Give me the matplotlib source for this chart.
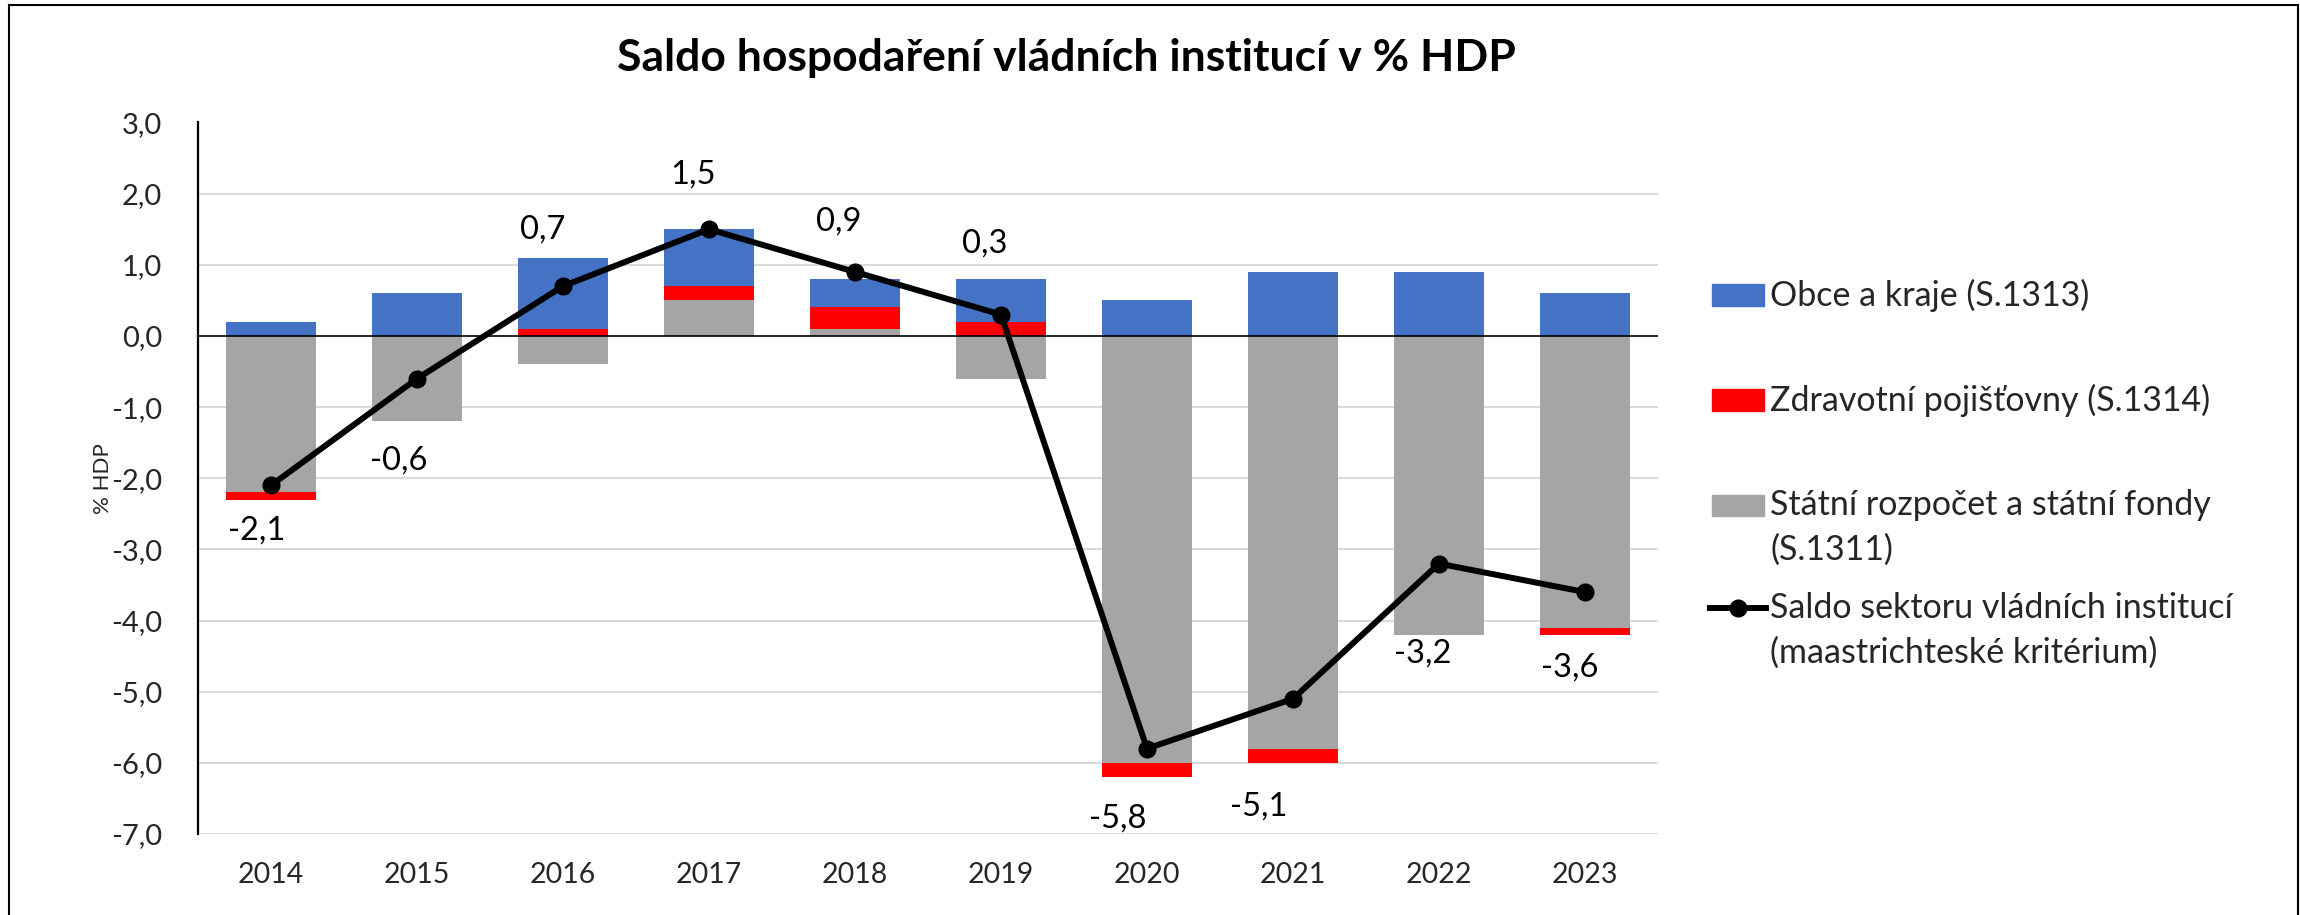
import numpy as np
import matplotlib
matplotlib.use("Agg")
import matplotlib.pyplot as plt
from matplotlib.patches import Rectangle
from matplotlib.lines import Line2D

plt.rcParams['font.family'] = ['Lato', 'DejaVu Sans']

# data (% HDP)
years = ["2014", "2015", "2016", "2017", "2018", "2019", "2020", "2021", "2022", "2023"]
statni = [-2.2, -1.2, -0.4, 0.5, 0.1, -0.6, -6.0, -5.8, -4.2, -4.1]
zdravotni = [-0.1, 0.0, 0.1, 0.2, 0.3, 0.2, -0.2, -0.2, 0.0, -0.1]
obce = [0.2, 0.6, 1.0, 0.8, 0.4, 0.6, 0.5, 0.9, 0.9, 0.6]
saldo = [-2.1, -0.6, 0.7, 1.5, 0.9, 0.3, -5.8, -5.1, -3.2, -3.6]

labels = ["Obce a kraje (S.1313)",
          "Zdravotní pojišťovny (S.1314)",
          "Státní rozpočet a státní fondy\n(S.1311)",
          "Saldo sektoru vládních institucí\n(maastrichteské kritérium)"]
title = "Saldo hospodaření vládních institucí v % HDP"

BLUE = "#4472C4"
RED = "#FF0000"
GRAY = "#A5A5A5"

# label offsets in pixels (x right, y down), placed by hand like in the original
lab_off = [(-14, 45), (-18, 82), (-20, -57), (-16, -55), (-16, -50),
           (-16, -71), (-29, 70), (-34, 108), (-16, 90), (-15, 75)]

W, H = 2300, 915
fig = plt.figure(figsize=(W / 100, H / 100), dpi=100)
ax = fig.add_axes([198 / W, 1 - 834 / H, 1460 / W, 711.5 / H])

x = np.arange(len(years))
pos_base = np.zeros(len(x))
neg_base = np.zeros(len(x))
for vals, col in [(statni, GRAY), (zdravotni, RED), (obce, BLUE)]:
    v = np.array(vals)
    bottom = np.where(v >= 0, pos_base, neg_base)
    ax.bar(x, v, 0.62, bottom=bottom, color=col, zorder=2)
    pos_base += np.clip(v, 0, None)
    neg_base += np.clip(v, None, 0)

ax.plot(x, saldo, color="black", lw=4.3, marker="o", ms=12, zorder=4)

for i, val in enumerate(saldo):
    dx, dy = lab_off[i]
    ax.annotate(f"{val:.1f}".replace(".", ","), (x[i], val),
                xytext=(dx, -dy), textcoords="offset pixels",
                ha="center", va="center", fontsize=23.5, zorder=5)

ax.set_xlim(-0.5, len(x) - 0.5)
ax.set_ylim(-7, 3)
yt = np.arange(-7, 4)
ax.set_yticks(yt)
ax.set_yticklabels([f"{v:.1f}".replace(".", ",") for v in yt], fontsize=21, color="#262626")
ax.set_xticks(x)
ax.set_xticklabels(years, fontsize=20.5, color="#262626")
ax.tick_params(axis="both", length=0)
ax.tick_params(axis="x", pad=20)
ax.tick_params(axis="y", pad=26)

for yv in yt:
    if yv != 0:
        ax.axhline(yv, color="#D9D9D9", lw=1.4, zorder=0)
ax.axhline(0, color="black", lw=1.2, zorder=3)

for s in ["top", "right", "bottom"]:
    ax.spines[s].set_visible(False)
ax.spines["left"].set_linewidth(1.6)
ax.spines["left"].set_zorder(5)

ax.set_ylabel("% HDP", fontsize=16, color="#262626")
ax.yaxis.set_label_coords((113 - 198) / 1460, 0.5)

fig.text(1066 / W, 1 - 58 / H, title, ha="center", va="center",
         fontsize=32, fontweight="bold")

# legend, drawn by hand
tx = 1770 / W
rows = [295, 400, 505, 608]
handles = [BLUE, RED, GRAY, None]
for lab, r, h in zip(labels, rows, handles):
    if h is not None:
        fig.patches.append(Rectangle((1712 / W, 1 - (r + 10.5) / H), 52 / W, 21 / H,
                                     color=h, transform=fig.transFigure))
    else:
        fig.lines.append(Line2D([1710 / W, 1766 / W], [1 - r / H] * 2, color="black",
                                lw=4.3, transform=fig.transFigure))
        fig.lines.append(Line2D([1738 / W], [1 - r / H], color="black", marker="o",
                                ms=12, transform=fig.transFigure))
    for k, line in enumerate(lab.split("\n")):
        fig.text(tx, 1 - (r + k * 44.5) / H, line, ha="left", va="center",
                 fontsize=24.5, color="#262626")

# outer frame
fig.patches.append(Rectangle((9 / W, -0.05), 2288.5 / W, 1.05 - 5 / H, fill=False,
                             edgecolor="black", lw=1.5, transform=fig.transFigure))

fig.savefig("out.png", dpi=100)
